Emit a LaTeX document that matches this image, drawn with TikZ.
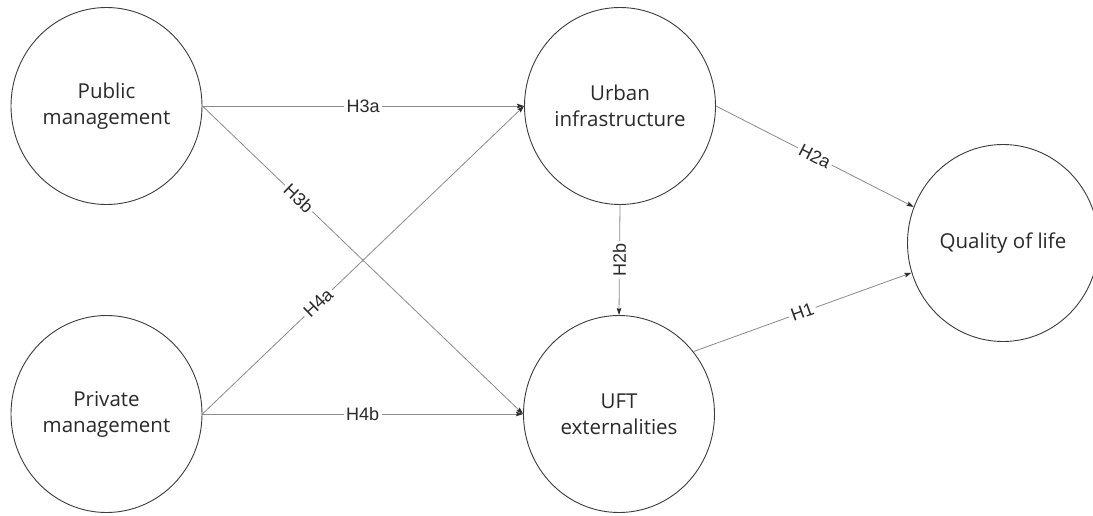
\documentclass[tikz,border=0pt]{standalone}
\usepackage{fontspec}
\setmainfont{Open Sans}
\newfontfamily\labelfont{Liberation Sans}
\usetikzlibrary{arrows.meta,shapes.geometric}

\definecolor{rimgray}{HTML}{3C3C3C}
\definecolor{wiregray}{HTML}{8A8A8A}
\definecolor{inkgray}{HTML}{2A2A2A}

\tikzset{
  construct/.style={ellipse, draw=rimgray, line width=0.9pt, fill=white,
    minimum width=191pt, minimum height=197pt, inner sep=0pt,
    align=center, text=inkgray, font=\fontsize{20.5}{26}\selectfont},
  path link/.style={draw=wiregray, line width=0.8pt,
    -{Stealth[length=7pt,width=4.5pt,inset=1pt,color=inkgray]}},
  hyp/.style={fill=white, inner sep=2.5pt, text=inkgray,
    font=\labelfont\fontsize{18}{18}\selectfont}
}

\begin{document}
\begin{tikzpicture}[x=1pt,y=-1pt]
  \useasboundingbox (0,0) rectangle (1093,515);

  % latent constructs
  \node[construct] (pub)  at (106.5,106) {Public\\management};
  \node[construct] (priv) at (106.5,414) {Private\\management};
  \node[construct] (urb)  at (620,106)   {Urban\\infrastructure};
  \node[construct] (uft)  at (619,414)   {UFT\\externalities};
  \node[construct] (qol)  at (1003,243)  {Quality of life};

  % hypothesised paths
  \draw[path link] (pub.east)  -- node[hyp] {H3a} (urb.west);
  \draw[path link] (pub.east)  -- node[hyp, sloped, pos=0.30] {H3b} (uft.west);
  \draw[path link] (priv.east) -- node[hyp, sloped, pos=0.36] {H4a} (urb.west);
  \draw[path link] (priv.east) -- node[hyp] {H4b} (uft.west);
  \draw[path link] (urb.east)  -- node[hyp, sloped] {H2a} (qol.158);
  \draw[path link] (urb.south) -- node[hyp, rotate=90] {H2b} (uft.north);
  \draw[path link] (uft.40)    -- node[hyp, sloped] {H1} (qol.198);
\end{tikzpicture}
\end{document}
